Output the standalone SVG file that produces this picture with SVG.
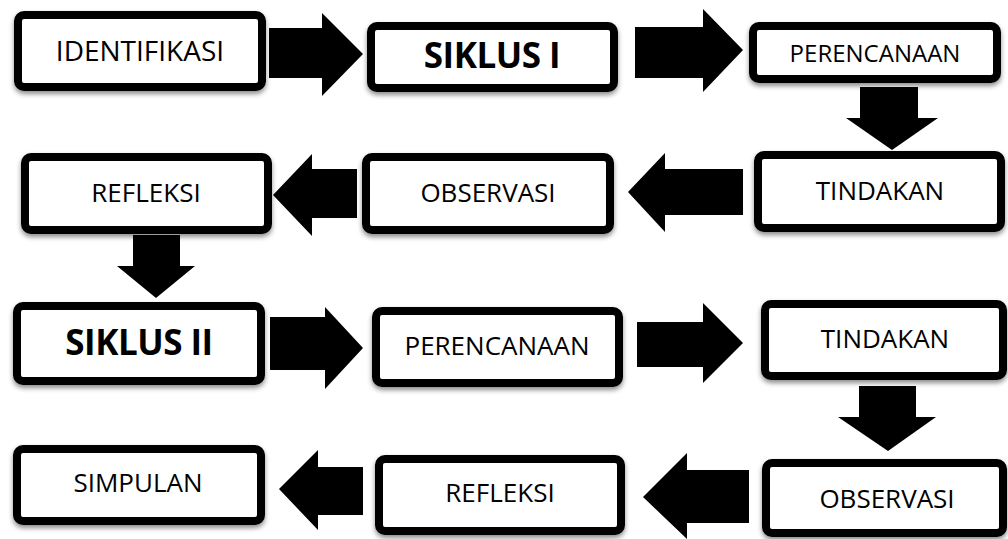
<svg xmlns="http://www.w3.org/2000/svg" width="1008" height="539" viewBox="0 0 1008 539">
<defs>
<filter id="sh" x="-10%" y="-20%" width="120%" height="150%">
<feDropShadow dx="0" dy="3" stdDeviation="2.5" flood-color="#000" flood-opacity="0.45"/>
</filter>
</defs>
<style>
.box{fill:#fff;stroke:#000;stroke-width:8;filter:url(#sh)}
.t{font-family:"Open Sans","Noto Sans",sans-serif;font-size:26px;fill:#000;text-anchor:middle}
.b{font-family:"Open Sans","Noto Sans",sans-serif;font-size:35px;font-weight:bold;fill:#000;text-anchor:middle;letter-spacing:-0.5px}
.ar{fill:#000}
</style>
<rect width="1008" height="539" fill="#fff"/>
<g id="connectors">
<polygon class="ar" points="269,28 322,28 322,13 363,54 322,96 322,78 269,78"/>
<polygon class="ar" points="635,27 703,27 703,9 743,50 703,92 703,78 635,78"/>
<polygon class="ar" points="860,87 918,87 918,118 938,118 892,150 846,118 860,118"/>
<polygon class="ar" points="743,169 743,215 665,215 665,232 628,192 665,153 665,169"/>
<polygon class="ar" points="357,169 357,218 312,218 312,236 273,195 312,154 312,169"/>
<polygon class="ar" points="133,235 180,235 180,266 195,266 156,298 117,266 133,266"/>
<polygon class="ar" points="270,317 325,317 325,307 363,348 325,389 325,370 270,370"/>
<polygon class="ar" points="637,322 703,322 703,303 743,343 703,383 703,367 637,367"/>
<polygon class="ar" points="859,386 916,386 916,417 936,417 888,451 838,417 859,417"/>
<polygon class="ar" points="749,470 749,523 687,523 687,539 643,497 687,453 687,470"/>
<polygon class="ar" points="363,467 363,515 318,515 318,530 279,489 318,450 318,467"/>
</g>
<g id="n-identifikasi">
<rect class="box" x="18" y="15" width="244" height="72" rx="6"/>
<text class="t" x="140" y="61" style="font-size:28px">IDENTIFIKASI</text>
</g>
<g id="n-siklus1">
<rect class="box" x="371" y="26" width="243" height="62" rx="6"/>
<text class="b" x="492" y="68">SIKLUS I</text>
</g>
<g id="n-perencanaan1">
<rect class="box" x="753" y="26" width="244" height="53" rx="6"/>
<text class="t" x="875" y="62" style="font-size:24px">PERENCANAAN</text>
</g>
<g id="n-tindakan1">
<rect class="box" x="758" y="155" width="243" height="73" rx="6"/>
<text class="t" x="880" y="200">TINDAKAN</text>
</g>
<g id="n-observasi1">
<rect class="box" x="366" y="157" width="244" height="73" rx="6"/>
<text class="t" x="488" y="202">OBSERVASI</text>
</g>
<g id="n-refleksi1">
<rect class="box" x="25" y="157" width="243" height="73" rx="6"/>
<text class="t" x="146" y="202">REFLEKSI</text>
</g>
<g id="n-siklus2">
<rect class="box" x="17" y="306" width="244" height="75" rx="6"/>
<text class="b" x="139" y="355">SIKLUS II</text>
</g>
<g id="n-perencanaan2">
<rect class="box" x="376" y="311" width="243" height="72" rx="6"/>
<text class="t" x="497" y="355">PERENCANAAN</text>
</g>
<g id="n-tindakan2">
<rect class="box" x="765" y="304" width="238" height="72" rx="6"/>
<text class="t" x="885" y="348">TINDAKAN</text>
</g>
<g id="n-observasi2">
<rect class="box" x="766" y="463" width="237" height="70" rx="6"/>
<text class="t" x="887" y="508">OBSERVASI</text>
</g>
<g id="n-refleksi2">
<rect class="box" x="379" y="459" width="242" height="72" rx="6"/>
<text class="t" x="500" y="502">REFLEKSI</text>
</g>
<g id="n-simpulan">
<rect class="box" x="17" y="449" width="244" height="72" rx="6"/>
<text class="t" x="138" y="492">SIMPULAN</text>
</g>
</svg>
